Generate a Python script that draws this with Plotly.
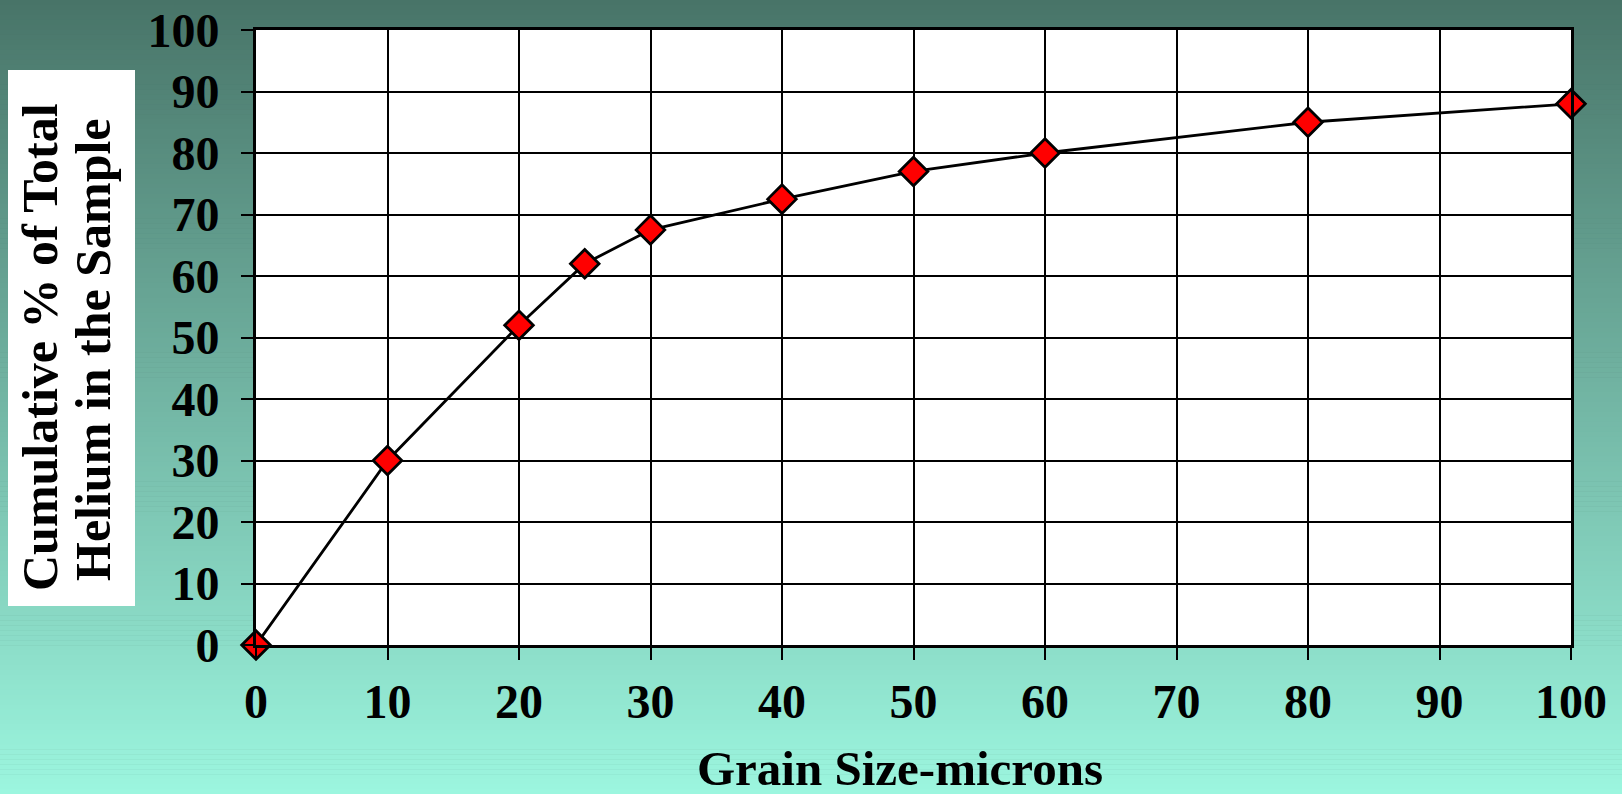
import plotly.graph_objects as go

# Cumulative helium release versus grain size
grain_size = [0, 10, 20, 25, 30, 40, 50, 60, 80, 100]
cumulative_pct = [0, 30, 52, 62, 67.5, 72.5, 77, 80, 85, 88]

x_ticks = list(range(0, 101, 10))
y_ticks = list(range(0, 101, 10))

x_title = "Grain Size-microns"
y_title_lines = ["Cumulative % of Total", "Helium in the Sample"]

W, H = 1622, 794
L, R, T, B = 256, 51, 30, 149
PW, PH = W - L - R, H - T - B


def px_x(px):
    return (px - L) / PW


def px_y(py):
    return (H - B - py) / PH


FONT = "Liberation Serif, Times New Roman, serif"

fig = go.Figure()
fig.add_trace(go.Scatter(
    x=grain_size, y=cumulative_pct, mode="lines+markers",
    line=dict(color="black", width=2.8),
    marker=dict(symbol="diamond", size=22, color="#ff0000",
                line=dict(color="black", width=2.8)),
    cliponaxis=False, showlegend=False,
))

# vertical background gradient built from thin strips
top_rgb = (72, 116, 104)
bot_rgb = (156, 246, 223)
n = 160
shapes = []
for i in range(n):
    y0p = i * H / n
    y1p = (i + 1) * H / n + 0.5
    f = (i + 0.5) / n
    c = tuple(round(top_rgb[k] + (bot_rgb[k] - top_rgb[k]) * f) for k in range(3))
    shapes.append(dict(
        type="rect", xref="paper", yref="paper", layer="below",
        x0=px_x(0), x1=px_x(W), y0=px_y(y1p), y1=px_y(y0p),
        line=dict(width=0), fillcolor="rgb(%d,%d,%d)" % c,
    ))
# white plotting area
shapes.append(dict(
    type="rect", xref="paper", yref="paper", layer="below",
    x0=0, x1=1, y0=0, y1=1, line=dict(width=0), fillcolor="white",
))
# white panel behind the y-axis title
shapes.append(dict(
    type="rect", xref="paper", yref="paper", layer="below",
    x0=px_x(8), x1=px_x(135), y0=px_y(606), y1=px_y(70),
    line=dict(width=0), fillcolor="white",
))

annotations = [
    dict(text="<b>%s</b>" % y_title_lines[0], xref="paper", yref="paper",
         x=px_x(40), y=px_y(347), textangle=-90, showarrow=False,
         xanchor="center", yanchor="middle",
         font=dict(family=FONT, size=50, color="black")),
    dict(text="<b>%s</b>" % y_title_lines[1], xref="paper", yref="paper",
         x=px_x(93), y=px_y(350), textangle=-90, showarrow=False,
         xanchor="center", yanchor="middle",
         font=dict(family=FONT, size=50, color="black")),
    dict(text="<b>%s</b>" % x_title, xref="paper", yref="paper",
         x=px_x(900), y=px_y(768), showarrow=False,
         xanchor="center", yanchor="middle",
         font=dict(family=FONT, size=49, color="black")),
]

axis_common = dict(
    showgrid=True, gridcolor="black", gridwidth=2.2,
    showline=True, linecolor="black", linewidth=3, mirror=True,
    ticks="outside", ticklen=12, tickwidth=2.2, tickcolor="black",
    tickfont=dict(family=FONT, size=48, color="black", weight="bold"),
    zeroline=False, fixedrange=True, automargin=False,
)

fig.update_xaxes(range=[0, 100], tickvals=x_ticks, **axis_common)
fig.update_yaxes(range=[0, 100], tickvals=y_ticks, ticklabelstandoff=12,
                 **axis_common)

fig.update_layout(
    width=W, height=H,
    margin=dict(l=L, r=R, t=T, b=B),
    paper_bgcolor="rgb(%d,%d,%d)" % top_rgb,
    plot_bgcolor="white",
    shapes=shapes, annotations=annotations,
)

fig.write_html("out.html")
